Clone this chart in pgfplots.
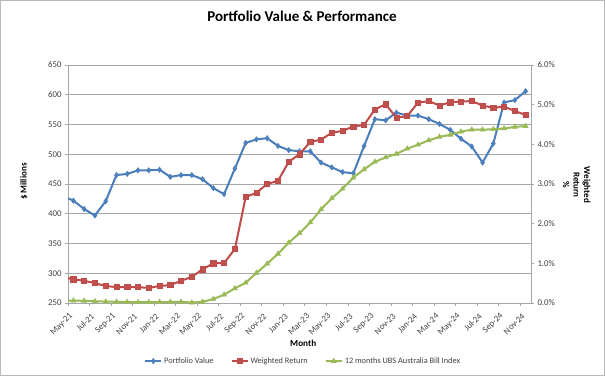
\documentclass[border=0pt]{standalone}
\usepackage{pgfplots}
\pgfplotsset{compat=1.18}
\usepackage{fontspec}
\setmainfont{Carlito}
\definecolor{pvblue}{HTML}{4A7EBB}
\definecolor{pvblueF}{HTML}{4F81BD}
\definecolor{wrred}{HTML}{BE4B48}
\definecolor{wrredF}{HTML}{C0504D}
\definecolor{ubsgreen}{HTML}{98B954}
\definecolor{ubsgreenF}{HTML}{9BBB59}
\definecolor{gridgray}{HTML}{A6A6A6}
\definecolor{txt}{HTML}{404040}

\pgfplotstableread{
i value
-1 430
0 422
1 408
2 397
3 421
4 465
5 467
6 473
7 473
8 474
9 462
10 465
11 465
12 458
13 443
14 433
15 476
16 519
17 525
18 527
19 514
20 507
21 505
22 505
23 486
24 478
25 470
26 468
27 514
28 559
29 557
30 570
31 565
32 565
33 559
34 551
35 541
36 526
37 513
38 486
39 518
40 587
41 591
42 606
}\portfolio

\pgfplotstableread{
i ret
-1 0.65
0 0.60
1 0.56
2 0.50
3 0.43
4 0.40
5 0.40
6 0.40
7 0.38
8 0.43
9 0.45
10 0.56
11 0.66
12 0.85
13 1.00
14 1.01
15 1.36
16 2.67
17 2.78
18 3.00
19 3.08
20 3.56
21 3.75
22 4.06
23 4.12
24 4.29
25 4.34
26 4.45
27 4.49
28 4.88
29 5.01
30 4.67
31 4.71
32 5.05
33 5.09
34 4.98
35 5.06
36 5.08
37 5.09
38 4.98
39 4.92
40 4.95
41 4.84
42 4.74
}\weighted

\pgfplotstableread{
i idx
-1 0.065
0 0.060
1 0.055
2 0.045
3 0.035
4 0.030
5 0.025
6 0.020
7 0.020
8 0.025
9 0.025
10 0.030
11 0.010
12 0.030
13 0.10
14 0.21
15 0.37
16 0.51
17 0.76
18 0.99
19 1.24
20 1.52
21 1.76
22 2.03
23 2.36
24 2.64
25 2.88
26 3.16
27 3.37
28 3.56
29 3.67
30 3.76
31 3.89
32 3.99
33 4.10
34 4.19
35 4.24
36 4.32
37 4.37
38 4.37
39 4.38
40 4.40
41 4.44
42 4.46
}\ubs

\pgfplotsset{
  common/.style={
    at={(68pt,73pt)}, anchor=south west,
    width=463pt, height=238pt, scale only axis,
    xmin=-0.5, xmax=42.5,
    /pgf/number format/assume math mode=true,
    every tick label/.append style={font=\fontsize{8.8}{10}\selectfont, text=txt},
    tick align=outside,
    major tick length=3pt,
    every tick/.style={gridgray, line width=0.8pt},
  },
}

\begin{document}
\begin{tikzpicture}
\useasboundingbox (0,0) rectangle (605pt,376pt);
\draw[gray!55, line width=0.8pt] (0.4pt,0.4pt) rectangle (604.6pt,375.6pt);
\node[font=\fontsize{15}{18}\selectfont\bfseries, text=black] at (302pt,360pt) {Portfolio Value \& Performance};

\begin{axis}[
  common,
  ymin=250, ymax=650,
  ytick={250,300,...,650},
  xtick={-0.5,1.5,...,41.5},
  xticklabels={May-21,Jul-21,Sep-21,Nov-21,Jan-22,Mar-22,May-22,Jul-22,Sep-22,Nov-22,Jan-23,Mar-23,May-23,Jul-23,Sep-23,Nov-23,Jan-24,Mar-24,May-24,Jul-24,Sep-24,Nov-24},
  xticklabel style={shift={(4pt,-8pt)}, rotate=45, anchor=east, inner sep=1pt},
  ytick pos=left, xtick pos=bottom,
  ymajorgrids,
  grid style={gridgray, line width=0.9pt},
  axis line style={gridgray, line width=0.9pt},
  xlabel={Month},
  xlabel style={at={(axis description cs:0.508,-0.168)}, anchor=center, font=\fontsize{9.2}{11}\selectfont\bfseries, text=black},
  ylabel={\$ Millions},
  ylabel style={at={(axis description cs:-0.095,0.51)}, anchor=center, rotate=0, font=\fontsize{9}{11}\selectfont\bfseries, text=black},
]
\addplot[pvblue, line width=2pt, mark=diamond*, mark size=2.6pt, mark options={fill=pvblueF, draw=pvblue, line width=0.6pt}] table[x=i, y=value] {\portfolio};
\end{axis}

\begin{axis}[
  common,
  axis x line=none,
  axis y line*=right,
  ymin=0, ymax=6,
  ytick={0,1,...,6},
  yticklabel={\pgfmathprintnumber[fixed,precision=1,zerofill]{\tick}\%},
  axis line style={gridgray, line width=0.9pt},
  ylabel={Weighted\\Return\\\%},
  ylabel style={at={(axis description cs:1.099,0.496)}, anchor=center, rotate=180, align=center, font=\fontsize{9}{10.5}\selectfont\bfseries, text=black},
  legend columns=3,
  legend style={at={(axis description cs:0.508,-0.244)}, anchor=center, draw=none, fill=none, font=\fontsize{8.3}{10}\selectfont, text=txt, /tikz/every even column/.append style={column sep=15pt}},
  legend image code/.code={\draw[mark repeat=2, mark phase=2, #1] plot coordinates {(0pt,0pt) (8pt,0pt) (16pt,0pt)};},
]
\addlegendimage{pvblue, line width=2pt, mark=diamond*, mark size=2.6pt, mark options={fill=pvblueF, draw=pvblue, line width=0.6pt}}
\addlegendentry{Portfolio Value}
\addplot[wrred, line width=2pt, mark=square*, mark size=2.6pt, mark options={fill=wrredF, draw=wrred, line width=0.6pt}] table[x=i, y=ret] {\weighted};
\addlegendentry{Weighted Return}
\addplot[ubsgreen, line width=2pt, mark=triangle*, mark size=2.8pt, mark options={fill=ubsgreenF, draw=ubsgreen, line width=0.6pt}] table[x=i, y=idx] {\ubs};
\addlegendentry{12 months UBS Australia Bill Index}
\end{axis}
\end{tikzpicture}
\end{document}
